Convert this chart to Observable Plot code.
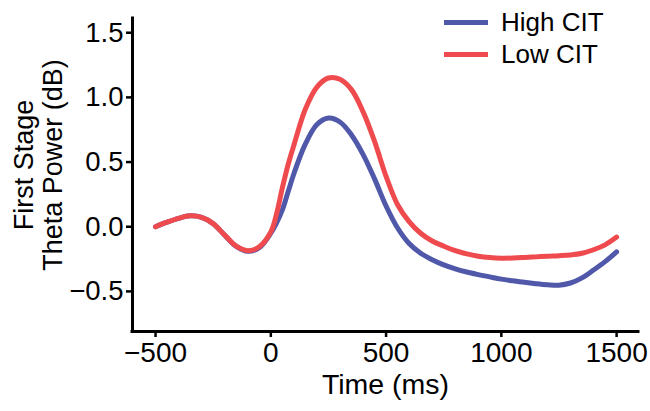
<!DOCTYPE html>
<html><head><meta charset="utf-8">
<script src="https://cdn.jsdelivr.net/npm/d3@7"></script>
<script src="https://cdn.jsdelivr.net/npm/@observablehq/plot@0.6"></script>
<style>
body{margin:0;background:#fff;font-family:"Liberation Sans",Arial,sans-serif;}
#wrap{position:relative;width:650px;height:411px;}
#legend{position:absolute;left:444px;top:6.5px;}
.row{display:flex;align-items:center;height:32.3px;font-size:26px;color:#000;white-space:nowrap;}
.sw{width:44px;height:5px;margin-right:13px;}
</style></head><body><div id="wrap"></div>
<script>
const seriesNames = ["High CIT", "Low CIT"];
const seriesColors = ["#5058a9", "#ef4b4f"];
const times = [-500,-450,-400,-350,-300,-250,-200,-150,-100,-50,0,25,50,75,100,150,200,250,300,350,400,450,500,550,600,650,700,750,800,850,900,950,1000,1050,1100,1150,1200,1250,1300,1350,1400,1450,1500];
const highCIT = [0.0,0.035,0.065,0.084,0.072,0.024,-0.066,-0.152,-0.19,-0.162,-0.05,0.03,0.13,0.27,0.41,0.64,0.79,0.84,0.81,0.71,0.56,0.37,0.16,-0.01,-0.13,-0.205,-0.255,-0.295,-0.325,-0.35,-0.37,-0.388,-0.405,-0.418,-0.43,-0.44,-0.448,-0.452,-0.435,-0.395,-0.335,-0.27,-0.195];
const lowCIT = [0.0,0.035,0.065,0.084,0.072,0.024,-0.065,-0.15,-0.185,-0.155,-0.04,0.10,0.30,0.48,0.63,0.91,1.08,1.15,1.14,1.06,0.89,0.66,0.39,0.17,0.04,-0.05,-0.11,-0.15,-0.185,-0.21,-0.228,-0.238,-0.243,-0.242,-0.238,-0.233,-0.228,-0.224,-0.218,-0.205,-0.178,-0.14,-0.08];
const xTicks = [-500, 0, 500, 1000, 1500];
const yTicks = [-0.5, 0, 0.5, 1.0, 1.5];
const xDomain = [-600, 1595];
const yDomain = [-0.81, 1.61];
const xLabel = "Time (ms)";
const yLabel1 = "First Stage";
const yLabel2 = "Theta Power (dB)";

const toRows = vals => times.map((t, i) => ({t, v: vals[i]}));
const font = '"Liberation Sans", Arial, sans-serif';

const chart = Plot.plot({
  width: 650, height: 411,
  marginLeft: 132, marginRight: 12, marginTop: 18, marginBottom: 80,
  x: {domain: xDomain},
  y: {domain: yDomain},
  style: {fontFamily: font, color: "#000", background: "#fff", overflow: "visible"},
  marks: [
    Plot.axisX(xTicks, {tickSize: 6, tickPadding: 5, tickFormat: d3.format("d"), fontSize: 28, strokeWidth: 2.5, label: null}),
    Plot.axisY(yTicks, {tickSize: 6, tickPadding: 3, tickFormat: d3.format(".1f"), fontSize: 27.5, strokeWidth: 2.5, label: null}),
    Plot.ruleY([yDomain[0]], {stroke: "#000", strokeWidth: 3, strokeLinecap: "square"}),
    Plot.ruleX([xDomain[0]], {stroke: "#000", strokeWidth: 3, strokeLinecap: "square"}),
    Plot.line(toRows(highCIT), {x: "t", y: "v", stroke: seriesColors[0], strokeWidth: 5, curve: "catmull-rom"}),
    Plot.line(toRows(lowCIT), {x: "t", y: "v", stroke: seriesColors[1], strokeWidth: 5, curve: "catmull-rom"}),
    Plot.text([xLabel], {frameAnchor: "bottom", dy: 53, fontSize: 28.5, fill: "#000", lineAnchor: "middle", textAnchor: "middle"}),
    Plot.text([yLabel1], {frameAnchor: "left", dx: -108.6, dy: -10, rotate: -90, fontSize: 27, fill: "#000", lineAnchor: "middle", textAnchor: "middle"}),
    Plot.text([yLabel2], {frameAnchor: "left", dx: -79.6, dy: -10, rotate: -90, fontSize: 27, fill: "#000", lineAnchor: "middle", textAnchor: "middle"})
  ]
});
const wrap = document.getElementById("wrap");
wrap.appendChild(chart);
const legend = document.createElement("div");
legend.id = "legend";
seriesNames.forEach((name, i) => {
  const row = document.createElement("div");
  row.className = "row";
  const sw = document.createElement("span");
  sw.className = "sw";
  sw.style.background = seriesColors[i];
  const lab = document.createElement("span");
  lab.textContent = name;
  row.appendChild(sw); row.appendChild(lab);
  legend.appendChild(row);
});
wrap.appendChild(legend);
</script>
</body></html>
